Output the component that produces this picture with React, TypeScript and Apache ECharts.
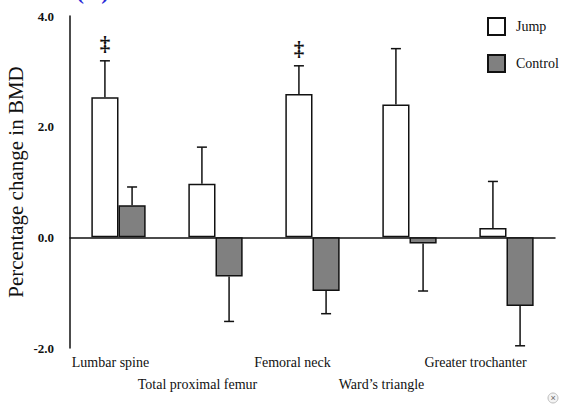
import React, { useEffect, useRef } from "react";
import * as echarts from "echarts";

const categories = [
  "Lumbar spine",
  "Total proximal femur",
  "Femoral neck",
  "Ward\u2019s triangle",
  "Greater trochanter",
];
const jumpMean = [2.53, 0.97, 2.59, 2.4, 0.17];
const jumpErr = [0.66, 0.66, 0.51, 1.01, 0.84];
const controlMean = [0.58, -0.71, -0.97, -0.11, -1.24];
const controlErr = [0.33, 0.81, 0.41, 0.86, 0.72];
const significance = ["\u2021", "", "\u2021", "", ""];
const yTicks = [-2, 0, 2, 4];

const SERIF = "Liberation Serif";
const labelShift = [8, 18, 20, 28, 31];
const labelRow2 = 22;

export default function App() {
  const ref = useRef<HTMLDivElement>(null);
  useEffect(() => {
    if (!ref.current) return;
    const chart = echarts.init(ref.current, undefined, { renderer: "svg" });

    const errData: any[] = [];
    categories.forEach((_, i) => {
      errData.push([i, jumpMean[i], jumpErr[i], 0, significance[i]]);
      errData.push([i, controlMean[i], controlErr[i], 1, ""]);
    });

    const rich: any = {};
    categories.forEach((_, i) => {
      rich["l" + i] = {
        fontFamily: SERIF,
        fontSize: 14,
        color: "#111",
        padding: [i % 2 === 1 ? labelRow2 : 0, labelShift[i] * 2, 0, 0],
      };
    });

    chart.setOption({
      animation: false,
      backgroundColor: "#ffffff",
      textStyle: { fontFamily: SERIF },
      grid: { left: 70, right: 10, top: 16, bottom: 59, outerBoundsMode: "none", containLabel: false },
      legend: {
        data: ["Jump", "Control"],
        orient: "vertical",
        left: 487,
        top: 17,
        padding: 0,
        itemWidth: 17,
        itemHeight: 17,
        itemGap: 18,
        icon: "rect",
        textStyle: { fontFamily: SERIF, fontSize: 14, color: "#111", padding: [0, 0, 0, 6] },
      },
      xAxis: [
        {
          type: "category",
          data: categories,
          position: "bottom",
          axisLine: { onZero: true, lineStyle: { color: "#111", width: 1.5 } },
          axisTick: { inside: true, length: 7, lineStyle: { color: "#111", width: 1.5 } },
          axisLabel: { show: false },
        },
        {
          type: "category",
          data: categories,
          position: "bottom",
          axisLine: { show: false, onZero: false },
          axisTick: { show: false },
          axisLabel: {
            margin: 7,
            interval: 0,
            fontFamily: SERIF,
            fontSize: 14,
            color: "#111",
            formatter: (v: string, i: number) => `{l${i}|${v}}`,
            rich,
          },
        },
      ],
      yAxis: {
        type: "value",
        min: -2,
        max: 4,
        interval: 1,
        splitLine: { show: false },
        axisLine: { show: true, lineStyle: { color: "#111", width: 1.5 } },
        axisTick: { inside: true, length: 8, lineStyle: { color: "#111", width: 1.5 } },
        axisLabel: {
          margin: 16,
          fontFamily: SERIF,
          fontSize: 13,
          fontWeight: "bold",
          color: "#111",
          formatter: (v: number) => (yTicks.indexOf(v) >= 0 ? v.toFixed(1) : ""),
        },
        name: "Percentage change in BMD",
        nameLocation: "middle",
        nameGap: 44,
        nameMoveOverlap: false,
        nameTextStyle: { fontFamily: SERIF, fontSize: 21, color: "#111" },
      },
      series: [
        {
          name: "Jump",
          type: "bar",
          data: jumpMean,
          barWidth: "28%",
          barGap: "0%",
          itemStyle: { color: "#ffffff", borderColor: "#111", borderWidth: 1.5 },
        },
        {
          name: "Control",
          type: "bar",
          data: controlMean,
          barWidth: "28%",
          barGap: "0%",
          itemStyle: { color: "#808080", borderColor: "#111", borderWidth: 1.5 },
        },
        {
          name: "err",
          type: "custom",
          data: errData,
          z: 5,
          renderItem: (params: any, api: any) => {
            const idx = api.value(0);
            const mean = api.value(1);
            const err = api.value(2);
            const s = api.value(3);
            const sig = errData[params.dataIndex][4];
            const band = api.size([1, 0])[0];
            const off = (s === 0 ? -1 : 1) * band * 0.14;
            const end = mean >= 0 ? mean + err : mean - err;
            const p0 = api.coord([idx, mean]);
            const p1 = api.coord([idx, end]);
            const x = p0[0] + off;
            const style = { stroke: "#111", lineWidth: 1.5 };
            const children: any[] = [
              { type: "line", shape: { x1: x, y1: p0[1], x2: x, y2: p1[1] }, style },
              { type: "line", shape: { x1: x - 5, y1: p1[1], x2: x + 5, y2: p1[1] }, style },
            ];
            if (sig) {
              children.push({
                type: "text",
                x: x,
                y: p1[1] - 6,
                style: {
                  text: sig,
                  fontFamily: SERIF,
                  fontSize: 21,
                  fontWeight: "bold",
                  fill: "#111",
                  align: "center",
                  verticalAlign: "bottom",
                },
              });
            }
            return { type: "group", children };
          },
        },
      ],
      graphic: [
        {
          type: "text",
          left: 76,
          top: -21,
          style: { text: "(A)", fontFamily: SERIF, fontSize: 24, fontWeight: "bold", fill: "#2a2ad8" },
        },
        {
          type: "circle",
          shape: { cx: 553, cy: 398, r: 5 },
          style: { fill: "#f4f4f4", stroke: "#bbb", lineWidth: 1 },
        },
        {
          type: "text",
          x: 553,
          y: 398,
          style: { text: "\u00d7", fontSize: 9, fill: "#666", align: "center", verticalAlign: "middle" },
        },
      ],
    });
    return () => chart.dispose();
  }, []);
  return (
    <div
      ref={ref}
      style={{ position: "fixed", left: 0, top: 0, width: 565, height: 407, background: "#fff" }}
    />
  );
}
